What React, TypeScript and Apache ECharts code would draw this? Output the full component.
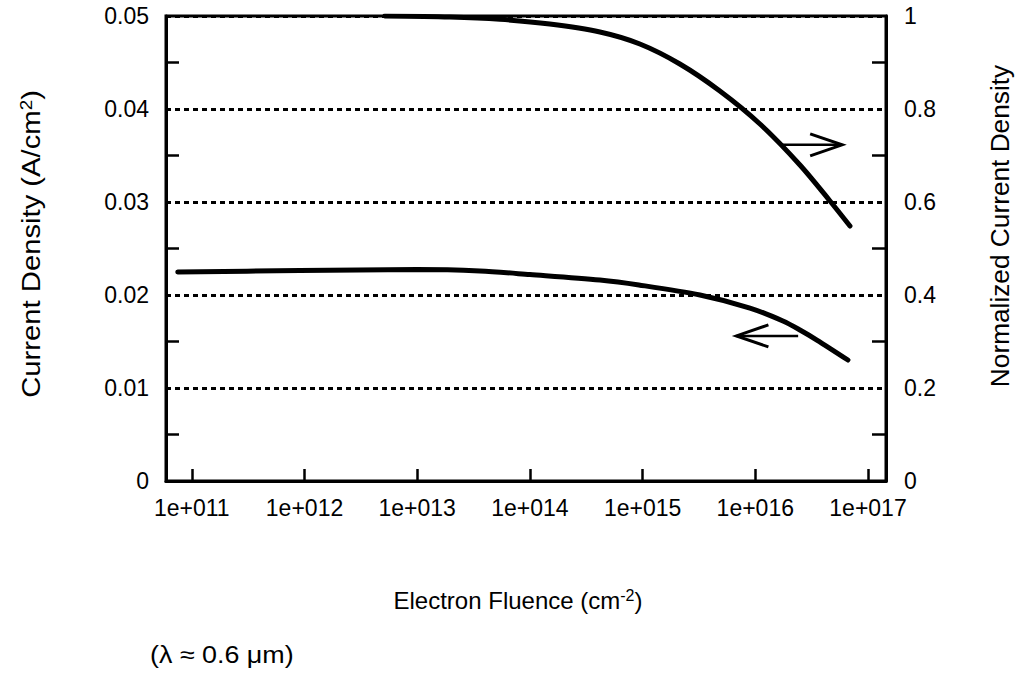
import React, { useEffect, useRef } from 'react';
import * as echarts from 'echarts';

// Lower curve: current density (A/cm^2), left axis
const fluenceLower = [7.5e10, 9.1e11, 1e13, 3.6e13, 1e14, 4.18e14, 9.27e14, 3.23e15, 8.97e15, 1.76e16, 2.49e16, 3.52e16, 6.64e16];
const currentDensity = [0.02247, 0.02263, 0.02274, 0.02258, 0.0222, 0.02161, 0.02108, 0.02, 0.0186, 0.0172, 0.01624, 0.01516, 0.01301];

// Upper curve: normalized current density, right axis
const fluenceUpper = [5.16e12, 1.95e13, 5.42e13, 1.5e14, 4.18e14, 9.46e14, 2.14e15, 4.85e15, 1.1e16, 2.49e16, 4.6e16, 6.92e16];
const normalizedDensity = [1.0, 0.9978, 0.9929, 0.9828, 0.9656, 0.9398, 0.8968, 0.8387, 0.7677, 0.6796, 0.6022, 0.5484];

// Axis ranges
const xMin = 5.9e10;
const xMax = 1.445e17;
const leftMax = 0.05;
const rightMax = 1;

// Arrow annotations (data coordinates)
const arrowRight = { from: [1.76e16, 0.723], to: [5.9e16, 0.723], yAxisIndex: 1 };
const arrowLeft = { from: [2.4e16, 0.0156], to: [6.8e15, 0.0156], yAxisIndex: 0 };

const FONT = 'Liberation Sans';

export default function App() {
  const ref = useRef<HTMLDivElement>(null);

  useEffect(() => {
    if (!ref.current) return;
    const chart = echarts.init(ref.current, null, { renderer: 'svg' });
    const axisLabel = { color: '#000', fontFamily: FONT, fontSize: 23 };
    const option: any = {
      animation: false,
      backgroundColor: '#fff',
      grid: {
        left: 166,
        right: 134,
        top: 16,
        bottom: 194,
        show: true,
        borderColor: '#000',
        borderWidth: 3,
        backgroundColor: 'transparent',
      },
      xAxis: {
        type: 'log',
        min: xMin,
        max: xMax,
        logBase: 10,
        splitNumber: 6,
        axisLine: { show: true, lineStyle: { color: '#000', width: 3 } },
        axisTick: { show: true, inside: true, length: 12, lineStyle: { color: '#000', width: 2.5 } },
        minorTick: { show: false },
        splitLine: { show: false },
        axisLabel: {
          ...axisLabel,
          margin: 15,
          showMinLabel: true,
          showMaxLabel: true,
          hideOverlap: false,
          formatter: (v: number) => {
            const l = Math.log10(v);
            const e = Math.round(l);
            if (Math.abs(l - e) > 1e-6) return '';
            return '1e+0' + e;
          },
        },
      },
      yAxis: [
        {
          type: 'value',
          position: 'left',
          min: 0,
          max: leftMax,
          interval: 0.01,
          axisLine: { show: true, lineStyle: { color: '#000', width: 3 } },
          axisTick: { show: false, inside: true },
          minorTick: { show: true, splitNumber: 2, length: 13, lineStyle: { color: '#000', width: 2.5 } },
          splitLine: { show: true, lineStyle: { color: '#000', width: 3, type: [5, 4] } },
          axisLabel: { ...axisLabel, margin: 17 },
        },
        {
          type: 'value',
          position: 'right',
          min: 0,
          max: rightMax,
          interval: 0.2,
          axisLine: { show: true, lineStyle: { color: '#000', width: 3 } },
          axisTick: { show: false, inside: true },
          minorTick: { show: true, splitNumber: 2, length: 14, lineStyle: { color: '#000', width: 2.5 } },
          splitLine: { show: false },
          axisLabel: { ...axisLabel, margin: 18 },
        },
      ],
      series: [
        {
          type: 'line',
          name: 'Current Density',
          yAxisIndex: 0,
          data: fluenceLower.map((x, i) => [x, currentDensity[i]]),
          showSymbol: false,
          smooth: 0.3,
          lineStyle: { color: '#000', width: 5, cap: 'round' },
        },
        {
          type: 'line',
          name: 'Normalized Current Density',
          yAxisIndex: 1,
          data: fluenceUpper.map((x, i) => [x, normalizedDensity[i]]),
          showSymbol: false,
          smooth: 0.3,
          lineStyle: { color: '#000', width: 5, cap: 'round' },
        },
      ],
    };
    chart.setOption(option);

    const graphics: any[] = [];
    [arrowRight, arrowLeft].forEach((a) => {
      const p1 = chart.convertToPixel({ xAxisIndex: 0, yAxisIndex: a.yAxisIndex }, a.from) as number[];
      const p2 = chart.convertToPixel({ xAxisIndex: 0, yAxisIndex: a.yAxisIndex }, a.to) as number[];
      const d = Math.sign(p2[0] - p1[0]);
      graphics.push({
        type: 'polyline',
        shape: { points: [p1, p2] },
        style: { stroke: '#000', lineWidth: 2.5, fill: null },
        z: 100,
      });
      graphics.push({
        type: 'polyline',
        shape: {
          points: [
            [p2[0] - d * 32, p2[1] - 11],
            [p2[0], p2[1]],
            [p2[0] - d * 32, p2[1] + 11],
          ],
        },
        style: { stroke: '#000', lineWidth: 3, fill: null, lineJoin: 'miter' },
        z: 100,
      });
    });

    const supRich = { sup: { fontSize: 16, fontFamily: FONT, fill: '#000', verticalAlign: 'top', padding: [0, 0, 10, 0] } };
    graphics.push(
      {
        type: 'text',
        x: 31,
        y: 244,
        rotation: Math.PI / 2,
        scaleX: 1.17,
        style: {
          text: 'Current Density (A/cm{sup|2})',
          fontSize: 25,
          fontFamily: FONT,
          fill: '#000',
          align: 'center',
          verticalAlign: 'middle',
          rich: supRich,
        },
      },
      {
        type: 'text',
        x: 1000,
        y: 226,
        rotation: Math.PI / 2,
        scaleX: 1.05,
        style: {
          text: 'Normalized Current Density',
          fontSize: 25,
          fontFamily: FONT,
          fill: '#000',
          align: 'center',
          verticalAlign: 'middle',
        },
      },
      {
        type: 'text',
        x: 518,
        y: 600,
        style: {
          text: 'Electron Fluence (cm{sup|-2})',
          fontSize: 24,
          fontFamily: FONT,
          fill: '#000',
          align: 'center',
          verticalAlign: 'middle',
          rich: supRich,
        },
      },
      {
        type: 'text',
        x: 150,
        y: 655,
        scaleX: 1.12,
        style: {
          text: '(λ ≈ 0.6 μm)',
          fontSize: 24,
          fontFamily: FONT,
          fill: '#000',
          align: 'left',
          verticalAlign: 'middle',
        },
      }
    );
    chart.setOption({ graphic: graphics });

    return () => chart.dispose();
  }, []);

  return <div ref={ref} style={{ position: 'fixed', left: 0, top: 0, width: 1020, height: 675 }} />;
}
